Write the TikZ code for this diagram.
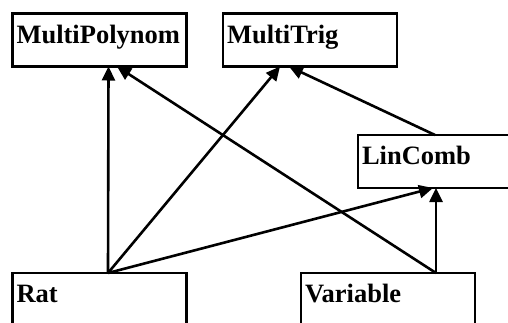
\documentclass[tikz,border=0pt]{standalone}
\usepackage{fontspec}
\setmainfont{Liberation Serif}
\usetikzlibrary{arrows.meta}

\begin{document}
\begin{tikzpicture}[x=1pt,y=-1pt,>={Triangle[length=14pt,width=13pt]},line join=miter,
  cls/.style={draw,line width=2.6pt,anchor=north west,outer sep=0pt,
    inner xsep=4pt,inner ysep=0pt,text width=166pt,align=left,
    text height=29.5pt,text depth=23.5pt,
    font=\fontsize{26.5}{26.5}\selectfont\bfseries},
  inh/.style={black,->,line width=2.6pt}]
%%
\clip (0,0) rectangle (508,322);
\node[cls] (multipoly) at (12.5,13.5) {MultiPolynom};
  \node[cls] (multitrig) at (223,13.5) {MultiTrig};
  \node[cls] (lincomb) at (358,135) {LinComb};
  \node[cls] (rat) at (12.5,273) {Rat};
  \node[cls] (variable) at (301,273) {Variable};
  \draw [inh] ([xshift=8.5pt]rat.north) -- ([xshift=9pt]multipoly.south);
  \draw [inh] ([xshift=8.5pt]rat.north) -- ([xshift=-30pt]multitrig.south);
  \draw [inh] ([xshift=8.5pt]rat.north) -- ([xshift=-12pt]lincomb.south);
  \draw [inh] ([xshift=48pt]variable.north) -- ([xshift=-9pt]lincomb.south);
  \draw [inh] ([xshift=48pt]variable.north) -- ([xshift=17.5pt]multipoly.south);
  \draw [inh] ([xshift=-10pt]lincomb.north) -- ([xshift=-21pt]multitrig.south);
%
\end{tikzpicture}
\end{document}
